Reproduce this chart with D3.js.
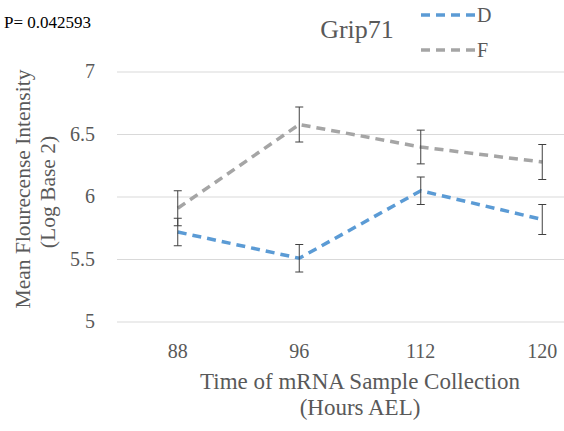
<!DOCTYPE html>
<html><head><meta charset="utf-8">
<script src="https://cdn.jsdelivr.net/npm/d3@7/dist/d3.min.js"></script>
</head><body style="margin:0;background:#fff">
<svg id="c" width="564" height="431"></svg>
<script>
const categories = ["88","96","112","120"];
const seriesD = [5.72, 5.51, 6.05, 5.82];
const errD = [0.11, 0.11, 0.11, 0.12];
const seriesF = [5.91, 6.58, 6.40, 6.28];
const errF = [0.14, 0.14, 0.135, 0.14];
const yTicks = [5, 5.5, 6, 6.5, 7];
const seriesNames = ["D","F"];
const colors = ["#5b9bd5","#a5a5a5"];
const FONT = "Liberation Serif";

const svg = d3.select("#c");
const x = d3.scaleBand().domain(categories).range([117, 603]);
const y = d3.scaleLinear().domain([5, 7]).range([322, 72]);
const cx = d => x(d) + x.bandwidth()/2;

svg.append("g").selectAll("line").data(yTicks).join("line")
  .attr("x1",117).attr("x2",564).attr("y1",d=>y(d)).attr("y2",d=>y(d))
  .attr("stroke","#d9d9d9").attr("stroke-width",1);

svg.append("g").selectAll("text").data(yTicks).join("text")
  .attr("x",95).attr("y",d=>y(d)+6).attr("text-anchor","end").style("font-family",FONT)
  .style("font-size","20px").attr("fill","#595959").text(d=>d);

svg.append("g").selectAll("text").data(categories).join("text")
  .attr("x",d=>cx(d)).attr("y",358).attr("text-anchor","middle").style("font-family",FONT)
  .style("font-size","20px").attr("fill","#595959").text(d=>d);

const series = [{name:"D",vals:seriesD,err:errD,color:colors[0]},{name:"F",vals:seriesF,err:errF,color:colors[1]}];
const line = d3.line().x((d,i)=>cx(categories[i])).y(d=>y(d));

[series[1], series[0]].forEach(s=>{
  svg.append("path").datum(s.vals).attr("d",line).attr("fill","none")
    .attr("stroke",s.color).attr("stroke-width",3.5).attr("stroke-dasharray","9,6");
});
series.forEach(s=>{
  const g = svg.append("g").attr("stroke","#404040").attr("stroke-width",1);
  s.vals.forEach((v,i)=>{
    const xx = cx(categories[i]);
    g.append("line").attr("x1",xx).attr("x2",xx).attr("y1",y(v+s.err[i])).attr("y2",y(v-s.err[i]));
    g.append("line").attr("x1",xx-4).attr("x2",xx+4).attr("y1",y(v+s.err[i])).attr("y2",y(v+s.err[i]));
    g.append("line").attr("x1",xx-4).attr("x2",xx+4).attr("y1",y(v-s.err[i])).attr("y2",y(v-s.err[i]));
  });
});

svg.append("text").attr("x",357).attr("y",38).attr("text-anchor","middle").style("font-family",FONT)
  .style("font-size","26px").attr("fill","#595959").text("Grip71");
svg.append("text").attr("x",4).attr("y",28).style("font-family",FONT).style("font-size","17px").attr("fill","#000").text("P= 0.042593");

series.forEach((s,i)=>{
  const ly = 15 + i*35;
  svg.append("line").attr("x1",421).attr("x2",476).attr("y1",ly).attr("y2",ly)
    .attr("stroke",s.color).attr("stroke-width",3.5).attr("stroke-dasharray","9,6");
  svg.append("text").attr("x",477).attr("y",ly+7).style("font-family",FONT).style("font-size","20px").attr("fill","#595959").text(s.name);
});

svg.append("text").attr("x",360).attr("y",389).attr("text-anchor","middle").style("font-family",FONT)
  .style("font-size","23px").attr("fill","#595959").text("Time of mRNA Sample Collection");
svg.append("text").attr("x",360).attr("y",415).attr("text-anchor","middle").style("font-family",FONT)
  .style("font-size","23px").attr("fill","#595959").text("(Hours AEL)");
svg.append("text").attr("transform","translate(30,189) rotate(-90)").attr("text-anchor","middle").style("font-family",FONT)
  .style("font-size","21.5px").attr("fill","#595959").text("Mean Flourecense Intensity");
svg.append("text").attr("transform","translate(55,192) rotate(-90)").attr("text-anchor","middle").style("font-family",FONT)
  .style("font-size","21.5px").attr("fill","#595959").text("(Log Base 2)");
</script>
</body></html>
